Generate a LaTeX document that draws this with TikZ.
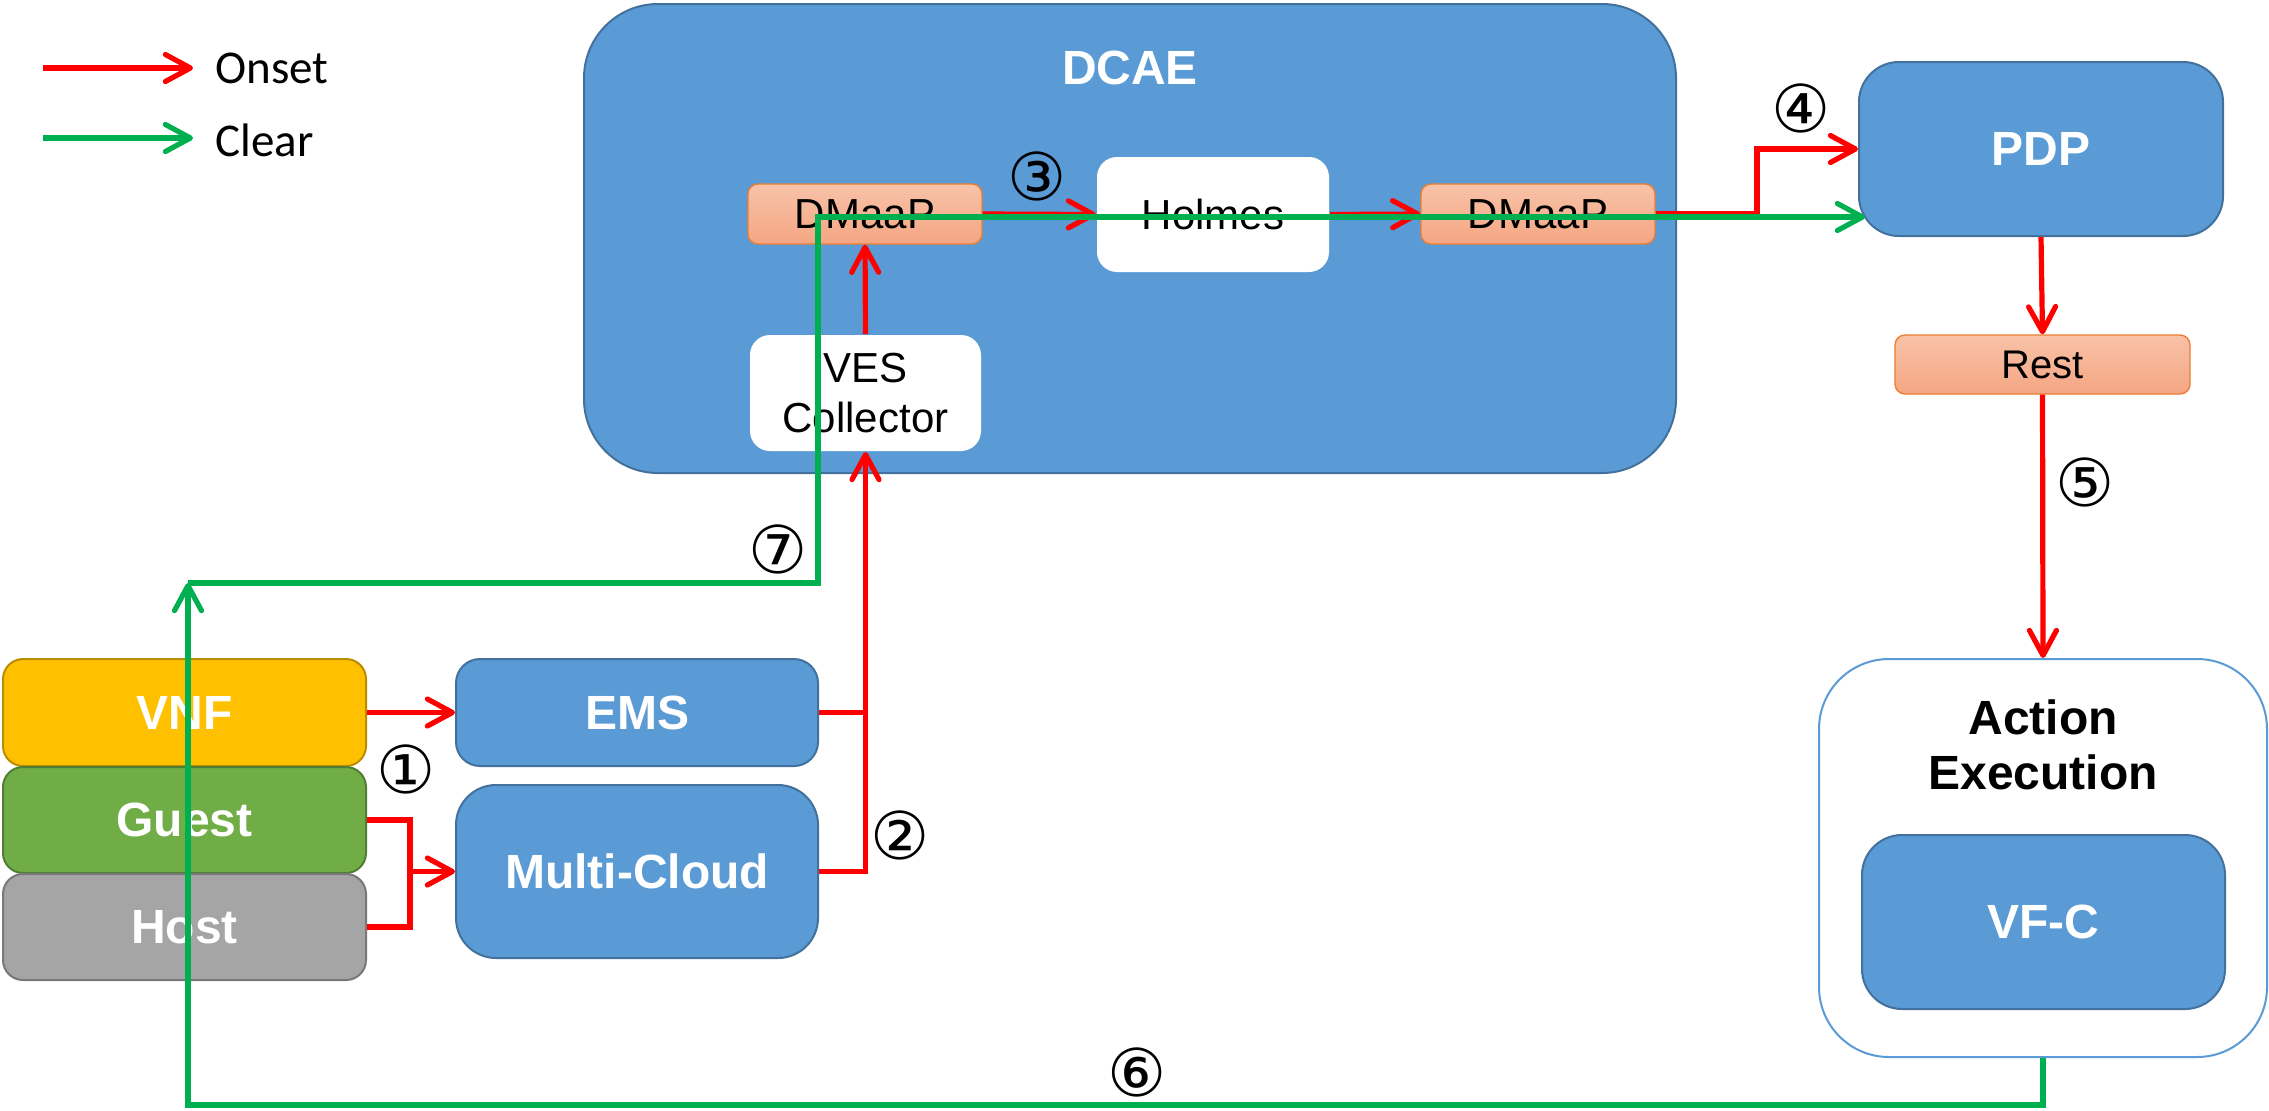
\documentclass[tikz,border=0pt]{standalone}
\usepackage{fontspec}
\setmainfont{Liberation Sans}
\newfontfamily\calfont{Carlito}
\newfontfamily\circfont{DejaVu Sans}
\usetikzlibrary{arrows.meta}
\definecolor{boxblue}{HTML}{5B9BD5}
\definecolor{blueedge}{HTML}{41719C}
\definecolor{vnffill}{HTML}{FFC000}
\definecolor{vnfedge}{HTML}{BC8C00}
\definecolor{guestfill}{HTML}{70AD47}
\definecolor{guestedge}{HTML}{507E32}
\definecolor{hostfill}{HTML}{A5A5A5}
\definecolor{hostedge}{HTML}{787878}
\definecolor{peachtop}{HTML}{F8C2A8}
\definecolor{peachbot}{HTML}{F4A683}
\definecolor{peachedge}{HTML}{ED7D31}
\definecolor{onsetred}{HTML}{FF0000}
\definecolor{cleargreen}{HTML}{00B050}
\begin{document}
\begin{tikzpicture}[x=0.5pt,y=-0.5pt,
  basebox/.style={inner sep=0pt, line width=1pt},
  bluebox/.style={basebox, draw=blueedge, fill=boxblue, text=white, font=\bfseries\fontsize{24}{28}\selectfont},
  colbox/.style={basebox, text=white, font=\bfseries\fontsize{24}{28}\selectfont, minimum width=181.5pt, minimum height=53.5pt, rounded corners=10pt},
  peachbox/.style={basebox, line width=0.7pt, draw=peachedge, top color=peachtop, bottom color=peachbot, font=\fontsize{21}{25}\selectfont, rounded corners=5pt},
  whitebox/.style={basebox, fill=white, font=\fontsize{21}{25}\selectfont, align=center, rounded corners=10pt},
  titlew/.style={inner sep=0pt, text=white, font=\bfseries\fontsize{24}{28}\selectfont},
  circ/.style={inner sep=0pt, font=\circfont\fontsize{33}{33}\selectfont},
  legtext/.style={inner sep=0pt, anchor=west, font=\calfont\fontsize{23.5}{26}\selectfont},
  tip/.style={-{Straight Barb[length=12.5pt,width=13.5pt,round]}},
  onset/.style={draw=onsetred, line width=2.6pt},
  clear/.style={draw=cleargreen, line width=2.6pt}
]
\useasboundingbox[fill=white] (0,0) rectangle (2269,1110);

% legend
\coordinate (la1) at (43,68);
\coordinate (la2) at (193,68);
\coordinate (lb1) at (43,138);
\coordinate (lb2) at (193,138);
\draw[onset,tip] (la1) -- (la2);
\draw[clear,tip] (lb1) -- (lb2);
\node[legtext] (lonset) at (215,68) {Onset};
\node[legtext] (lclear) at (215,140) {Clear};

% DCAE
\node[bluebox, minimum width=546pt, minimum height=234.5pt, rounded corners=37pt] (dcae) at (1130,238.5) {};
\node[titlew] (dcaelbl) at (1130,68) {DCAE};
\node[peachbox, minimum width=117pt, minimum height=30pt] (dmaap1) at (865,214) {DMaaP};
\node[whitebox, minimum width=116pt, minimum height=57.5pt] (holmes) at (1213,214.5) {Holmes};
\node[peachbox, minimum width=117pt, minimum height=30pt] (dmaap2) at (1538,214) {DMaaP};
\node[whitebox, minimum width=115.5pt, minimum height=58pt] (ves) at (865.5,393) {VES\\Collector};

% PDP, Rest, Action execution
\node[bluebox, minimum width=182pt, minimum height=87pt, rounded corners=20pt] (pdp) at (2041,149) {PDP};
\node[peachbox, font=\fontsize{20}{24}\selectfont, minimum width=147.5pt, minimum height=29.5pt] (rest) at (2042.5,364.5) {Rest};
\node[basebox, draw=boxblue, fill=white, minimum width=224pt, minimum height=199pt, rounded corners=35pt] (ae) at (2043,858) {};
\node[inner sep=0pt, align=center, font=\bfseries\fontsize{24}{27.5}\selectfont] (aelbl) at (2043,745) {Action\\Execution};
\node[bluebox, minimum width=181.5pt, minimum height=87pt, rounded corners=20pt] (vfc) at (2043.5,922) {VF-C};

% left stack
\node[colbox, draw=vnfedge, fill=vnffill] (vnf) at (184.5,712.5) {VNF};
\node[colbox, draw=guestedge, fill=guestfill, minimum height=53pt] (guest) at (184.5,820) {Guest};
\node[colbox, draw=hostedge, fill=hostfill, minimum height=53pt] (host) at (184.5,927) {Host};
\node[bluebox, minimum width=181pt, minimum height=53.5pt, rounded corners=12pt] (ems) at (637,712.5) {EMS};
\node[bluebox, minimum width=181pt, minimum height=86.5pt, rounded corners=20pt] (mc) at (637,871.5) {Multi-Cloud};

% onset connectors
\draw[onset,tip] (vnf.east) -- (ems.west);
\coordinate (gh) at (410,871.5);
\draw[onset] (guest.east) -- (410,820) |- (host.east);
\draw[onset,tip] (gh) -- (mc.west);
\draw[onset] (ems.east) -- (ems.east -| ves.south);
\draw[onset,tip] (mc.east) -| (ves.south);
\draw[onset,tip] (ves.north) -- (dmaap1.south);
\draw[onset,tip] (dmaap1.east) -- (holmes.west);
\draw[onset,tip] (holmes.east) -- (dmaap2.west);
\coordinate (c4) at (1757,149);
\draw[onset,tip] (dmaap2.east) -| (c4) -- (pdp.west);
\draw[onset,tip] (pdp.south) -- (rest.north);
\draw[onset,tip] (rest.south) -- (ae.north);

% clear connectors
\coordinate (gb) at (188,1105);
\coordinate (g1) at (188,583);
\coordinate (g2) at (818,583);
\coordinate (g3) at (818,217);
\coordinate (g4) at (1865,217);
\draw[clear,tip] (ae.south) |- (gb) -- (g1);
\draw[clear,tip] (g1) -- (g2) -- (g3) -- (g4);

% step numbers
\node[circ] (n1) at (406,769) {①};
\node[circ] (n2) at (900,835) {②};
\node[circ] (n3) at (1037,176) {③};
\node[circ] (n4) at (1801,108) {④};
\node[circ] (n5) at (2085,482) {⑤};
\node[circ] (n6) at (1137,1072) {⑥};
\node[circ] (n7) at (778,549) {⑦};
\end{tikzpicture}
\end{document}
